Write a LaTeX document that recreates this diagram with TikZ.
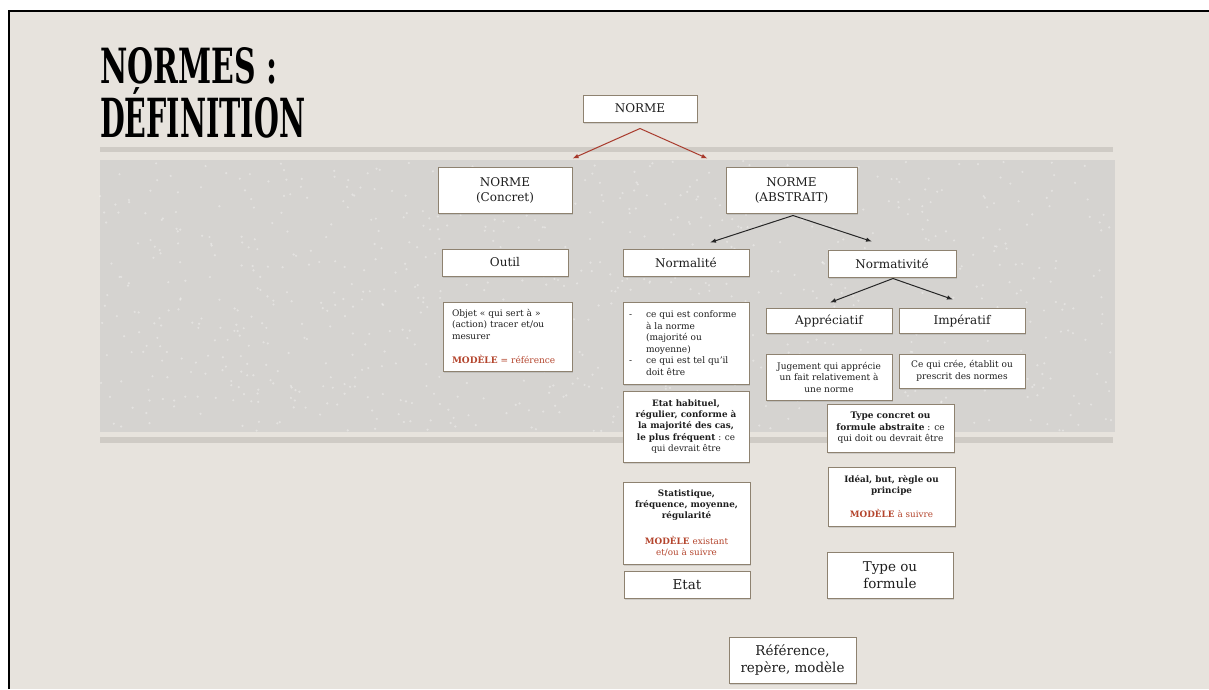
\documentclass[tikz,border=0pt]{standalone}
\usepackage{fontspec}
\setmainfont{DejaVu Serif}
\usetikzlibrary{arrows.meta,calc,shadows}
\definecolor{bgc}{HTML}{E7E3DD}
\definecolor{bandc}{HTML}{D5D3D0}
\definecolor{stripc}{HTML}{CFCBC5}
\definecolor{boxc}{HTML}{8E8270}
\definecolor{modc}{HTML}{B4452D}
\definecolor{arrc}{HTML}{A8392B}
\definecolor{txtc}{HTML}{1E1E1E}
\begin{document}
\begin{tikzpicture}[x=1pt,y=-1pt,
 bx/.style={draw=boxc, fill=white, line width=1pt, inner sep=0pt, text=txtc, align=center,
   drop shadow={shadow xshift=1pt, shadow yshift=-1.5pt, opacity=0.25}},
 big/.style={font=\fontsize{12}{15}\selectfont},
 large/.style={font=\fontsize{13.5}{17}\selectfont},
 small/.style={font=\fontsize{9}{11.5}\selectfont},
 smallb/.style={font=\fontsize{8.8}{11.3}\selectfont\bfseries},
 arr/.style={line width=1pt, -{Latex[length=6pt,width=4.5pt]}}
]
\useasboundingbox (0,0) rectangle (1209,689);
\fill[white] (0,0) rectangle (1209,689);
\fill[bgc] (9,11) rectangle (1209,689);
\fill[stripc] (100,147) rectangle (1113,152);
\fill[bandc] (100,160) rectangle (1115,432);
\fill[stripc] (100,437) rectangle (1113,443);
\pgfmathsetseed{7}
\foreach \i in {1,...,900}{
  \pgfmathsetmacro{\px}{100+1013*rnd}
  \pgfmathsetmacro{\py}{161+270*rnd}
  \fill[white,opacity=0.35] (\px,\py) circle (1.2pt);
}
\draw[line width=2pt] (9,689) -- (9,11) -- (1209,11);

% title
\node[anchor=base west, inner sep=0pt, text=black, font=\bfseries] (t1) at (100,83) {\resizebox{177pt}{36pt}{NORMES :}};
\node[anchor=base west, inner sep=0pt, text=black, font=\bfseries] (t2) at (100,137) {\resizebox{205pt}{40pt}{D\smash{É}FINITION}};

% nodes
\node[bx,big,minimum width=114pt,minimum height=27pt] (top) at (640,108.5) {NORME};
\node[bx,big,minimum width=134pt,minimum height=46pt] (nc) at (505,190) {NORME\\(Concret)};
\node[bx,big,minimum width=131pt,minimum height=46pt] (na) at (791.5,190) {NORME\\(ABSTRAIT)};
\node[bx,big,minimum width=126pt,minimum height=27pt] (outil) at (505,262.5) {Outil};
\node[bx,big,minimum width=126pt,minimum height=27pt] (normalite) at (686,262.5) {Normalité};
\node[bx,big,minimum width=128pt,minimum height=27pt] (normativite) at (892,263.5) {Normativité};
\node[bx,big,minimum width=126pt,minimum height=25pt] (appr) at (829,320.5) {Appréciatif};
\node[bx,big,minimum width=126pt,minimum height=25pt] (imper) at (962,320.5) {Impératif};

\node[bx,small,minimum width=129pt,minimum height=69pt,text width=111pt,align=left] (objet) at (507.5,336.5)
  {Objet « qui sert à »\\(action) tracer et/ou\\mesurer\\[13pt]\textcolor{modc}{\textbf{MODÈLE} = référence}};
\node[bx,small,minimum width=126pt,minimum height=82pt,text width=114pt,align=left] (bul) at (686,343)
  {\makebox[17pt][l]{-}ce qui est conforme\\\hspace*{17pt}à la norme\\\hspace*{17pt}(majorité ou\\\hspace*{17pt}moyenne)\\\makebox[17pt][l]{-}ce qui est tel qu'il\\\hspace*{17pt}doit être};
\node[bx,smallb,minimum width=126pt,minimum height=71pt] (hab) at (686,426.5)
  {Etat habituel,\\régulier, conforme à\\la majorité des cas,\\le plus fréquent\textmd{ : ce}\\\textmd{qui devrait être}};
\node[bx,small,minimum width=126pt,minimum height=46pt] (jug) at (829,377)
  {Jugement qui apprécie\\un fait relativement à\\une norme};
\node[bx,small,minimum width=126pt,minimum height=34pt] (cequi) at (962,371)
  {Ce qui crée, établit ou\\prescrit des normes};
\node[bx,small,minimum width=127pt,minimum height=48pt] (tconc) at (890.5,428)
  {\textbf{Type concret ou}\\\textbf{formule abstraite} : ce\\qui doit ou devrait être};
\node[bx,smallb,minimum width=127pt,minimum height=82pt] (stat) at (686.5,523)
  {Statistique,\\fréquence, moyenne,\\régularité\\[14pt]\textcolor{modc}{MODÈLE \textmd{existant}}\\\textcolor{modc}{\textmd{et/ou à suivre}}};
\node[bx,large,minimum width=126pt,minimum height=27pt] (etat) at (687,584.5) {Etat};
\node[bx,smallb,minimum width=127pt,minimum height=59pt] (ideal) at (891.5,496.5)
  {Idéal, but, règle ou\\principe\\[12pt]\textcolor{modc}{MODÈLE \textmd{à suivre}}};
\node[bx,large,minimum width=126pt,minimum height=46pt] (tform) at (890,575) {Type ou\\formule};
\node[bx,large,minimum width=127pt,minimum height=46pt] (ref) at (792.5,660) {Référence,\\repère, modèle};

% arrows
\draw[arr,draw=arrc] ($(top.south)+(0,6)$) -- ($(nc.north east)+(0,-8)$);
\draw[arr,draw=arrc] ($(top.south)+(0,6)$) -- ($(na.north west)+(-18,-8)$);
\draw[arr,draw=black!85] ($(na.south)+(1.5,2)$) -- ($(normalite.north)+(24,-6)$);
\draw[arr,draw=black!85] ($(na.south)+(1.5,2)$) -- ($(normativite.north)+(-20,-8)$);
\draw[arr,draw=black!85] ($(normativite.south)+(1,1)$) -- ($(appr.north)+(1,-5)$);
\draw[arr,draw=black!85] ($(normativite.south)+(1,1)$) -- ($(imper.north)+(-9,-8)$);
\end{tikzpicture}
\end{document}
